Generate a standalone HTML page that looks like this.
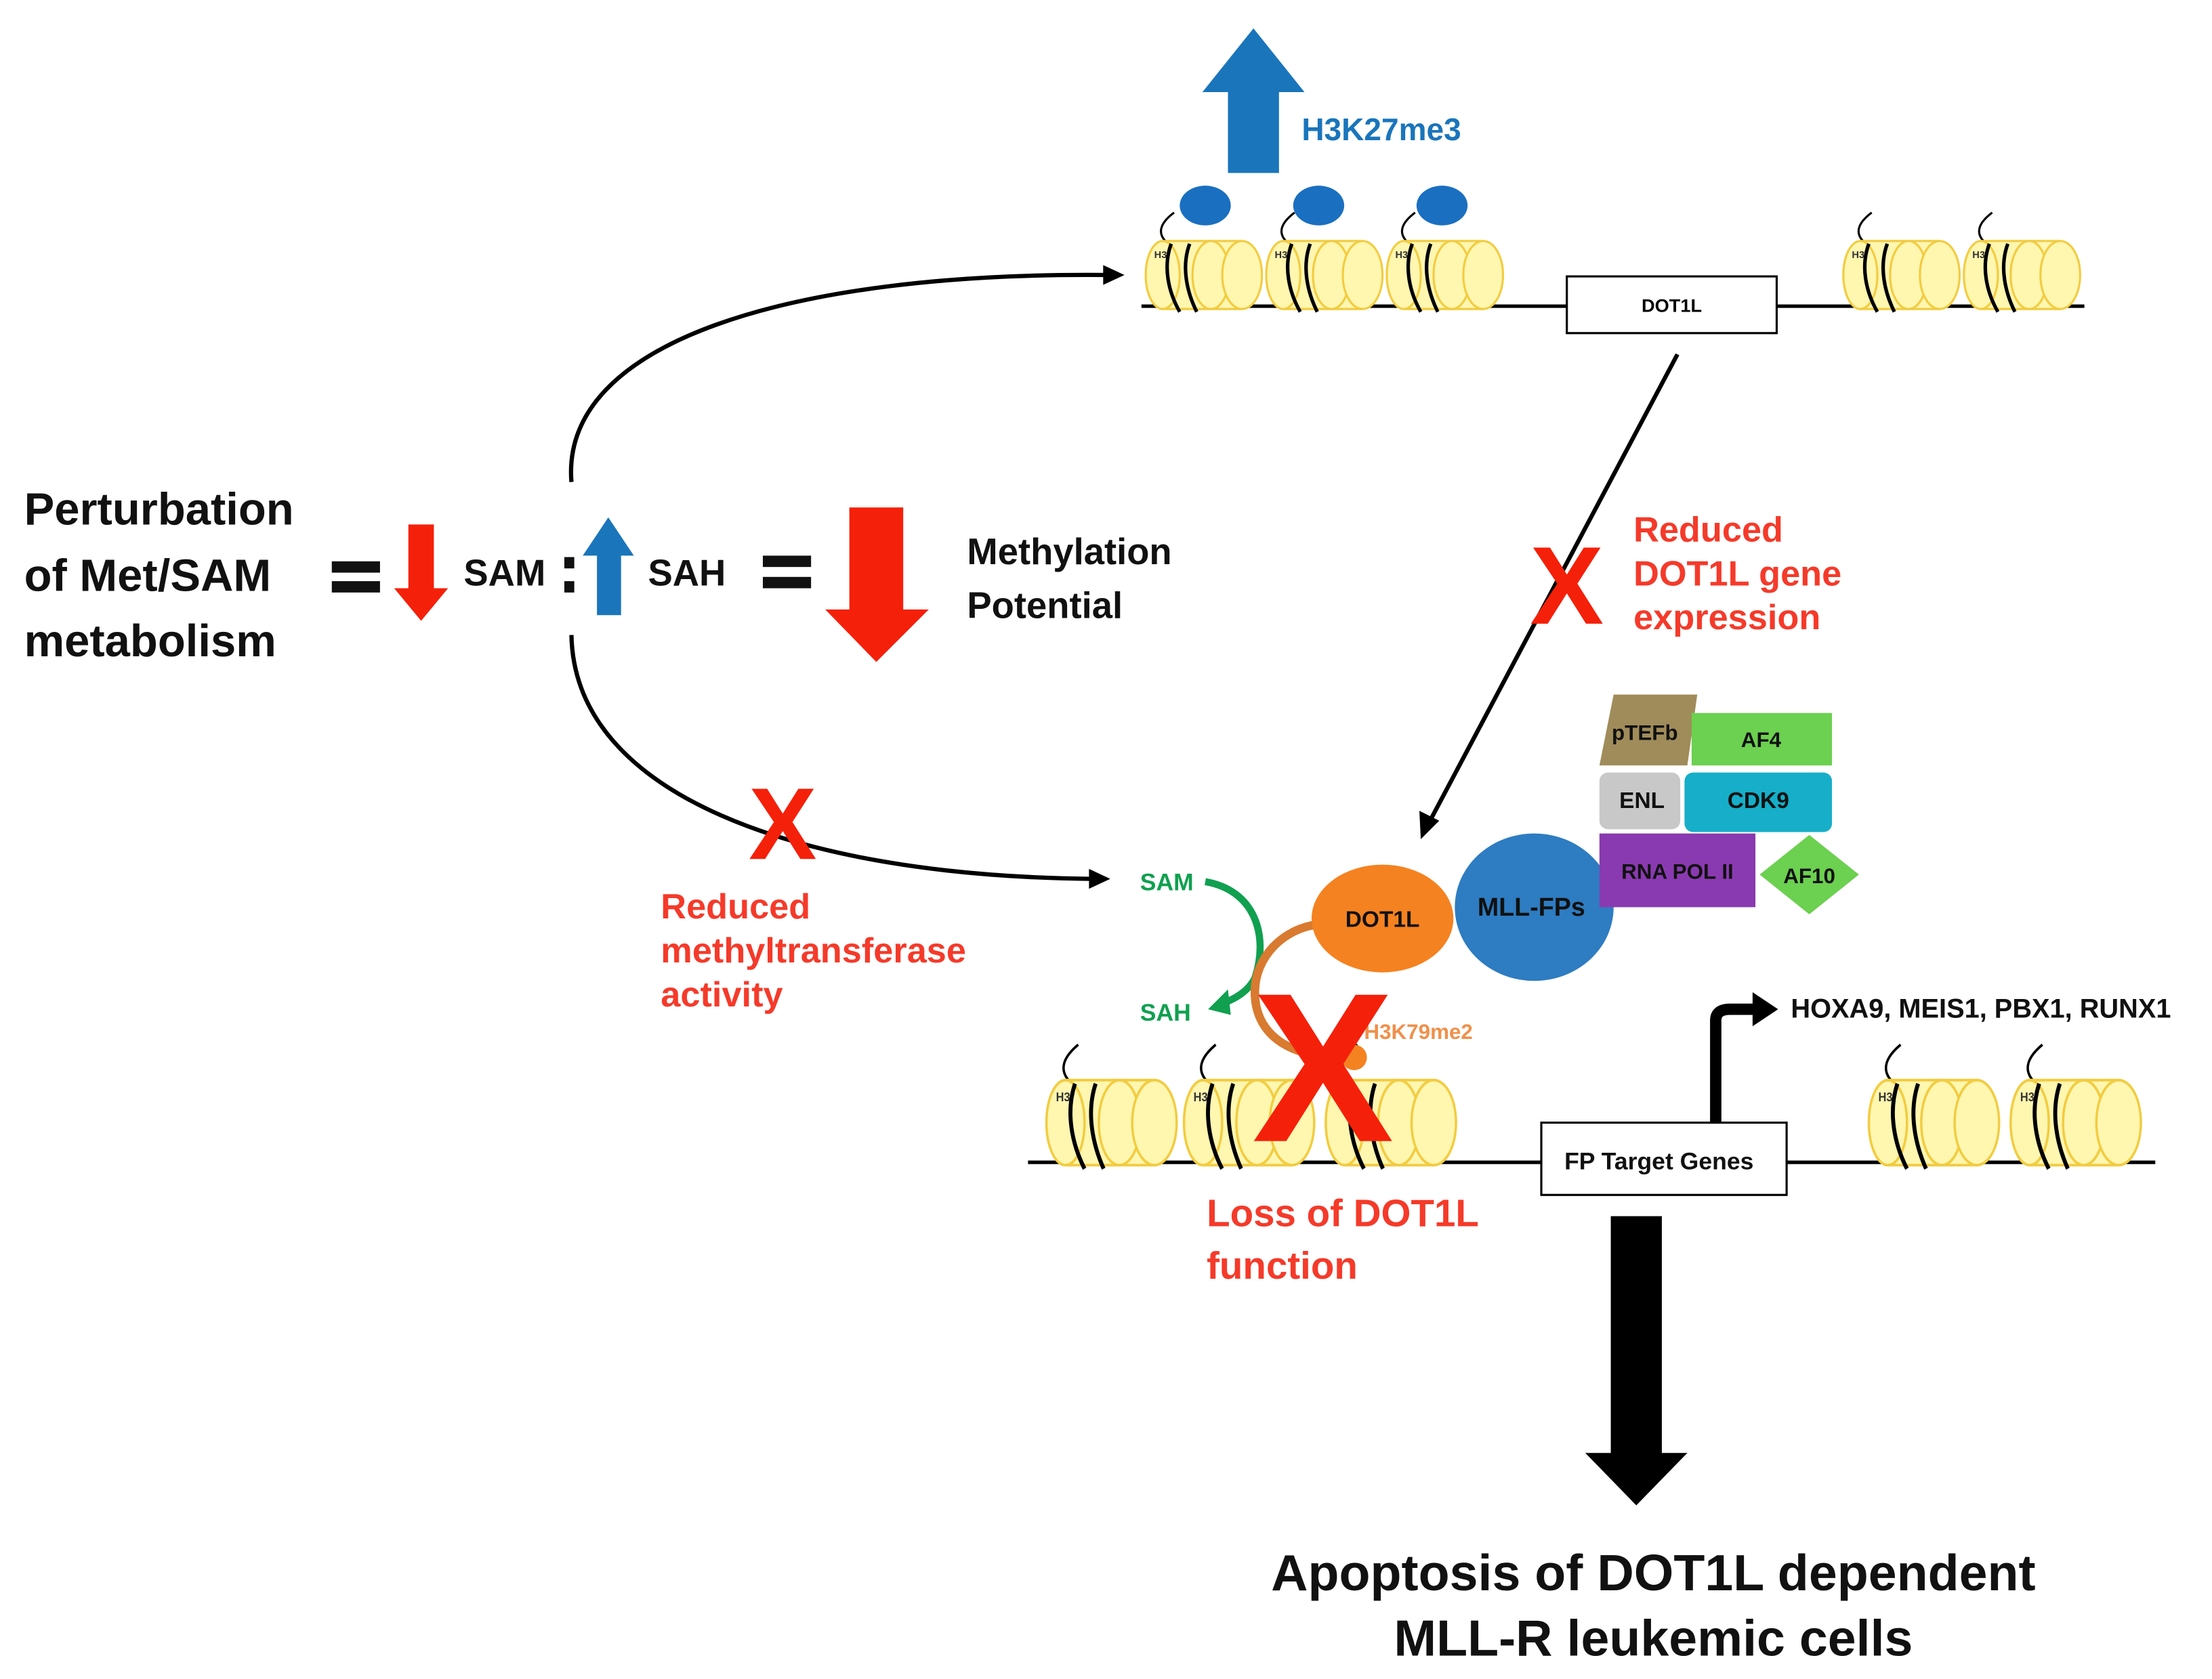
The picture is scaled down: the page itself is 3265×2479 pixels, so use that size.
<!DOCTYPE html>
<html><head><meta charset="utf-8"><style>
html,body{margin:0;padding:0;background:#fff;}
svg{display:block;}
text{font-family:"Liberation Sans",sans-serif;font-weight:bold;}
</style></head><body>
<svg width="3265" height="2479" viewBox="0 0 1560 1184.5" preserveAspectRatio="none" xmlns="http://www.w3.org/2000/svg">
<defs>
<g id="nuc">
 <path d="M16,2 C6,-6 12,-14 20,-20" fill="none" stroke="#000" stroke-width="1.5"/>
 <rect x="12" y="0" width="58" height="48" fill="#fff6b0"/>
 <ellipse cx="12" cy="24" rx="12" ry="24" fill="#fff6b0" stroke="#f2cc40" stroke-width="1.5"/>
 <line x1="12" y1="0" x2="68" y2="0" stroke="#f2cc40" stroke-width="1.5"/>
 <line x1="12" y1="48" x2="68" y2="48" stroke="#f2cc40" stroke-width="1.5"/>
 <ellipse cx="46" cy="24" rx="13" ry="24" fill="none" stroke="#f2cc40" stroke-width="1.5"/>
 <ellipse cx="68" cy="24" rx="14" ry="24" fill="#fff6b0" stroke="#f2cc40" stroke-width="1.5"/>
 <path d="M18,2 C12,18 16,36 24,50" fill="none" stroke="#000" stroke-width="2.5"/>
 <path d="M31,2 C25,18 29,36 36,50" fill="none" stroke="#000" stroke-width="2.5"/>
 <text x="6" y="12" font-size="7" font-weight="normal" fill="#333">H3</text>
</g>
</defs>

<polygon points="866,122 902,122 902,65 920,65 884,20 848,65 866,65" fill="#1a75bb"/>
<text x="918" y="99" font-size="22" fill="#1a75bb">H3K27me3</text>
<ellipse cx="850" cy="145" rx="18" ry="14" fill="#1a6fc0"/>
<ellipse cx="930" cy="145" rx="18" ry="14" fill="#1a6fc0"/>
<ellipse cx="1017" cy="145" rx="18" ry="14" fill="#1a6fc0"/>

<line x1="805" y1="216" x2="1470" y2="216" stroke="#000" stroke-width="2.5"/>
<use href="#nuc" x="808" y="170"/>
<use href="#nuc" x="893" y="170"/>
<use href="#nuc" x="978" y="170"/>
<use href="#nuc" x="1300" y="170"/>
<use href="#nuc" x="1385" y="170"/>
<rect x="1105" y="195" width="148" height="40" fill="#fff" stroke="#000" stroke-width="1.5"/>
<text x="1179" y="220" font-size="13" text-anchor="middle" font-weight="normal">DOT1L</text>

<path d="M403,340 C395,240 560,192 780,194" fill="none" stroke="#000" stroke-width="3"/>
<polygon points="793,194 778,187 778,201" fill="#000"/>
<path d="M403,448 C405,560 560,618 770,620" fill="none" stroke="#000" stroke-width="3"/>
<polygon points="783,620 768,613 768,627" fill="#000"/>

<text x="17" y="370" font-size="32" fill="#111">Perturbation</text>
<text x="17" y="417" font-size="32" fill="#111">of Met/SAM</text>
<text x="17" y="463" font-size="32" fill="#111">metabolism</text>
<rect x="234" y="396" width="34" height="8" fill="#111"/>
<rect x="234" y="410" width="34" height="8" fill="#111"/>
<polygon points="288,370 306,370 306,415 316,415 297,438 278,415 288,415" fill="#f5200a"/>
<text x="327" y="413" font-size="26" fill="#111">SAM</text>
<rect x="398" y="393" width="7" height="8" fill="#111"/>
<rect x="398" y="410" width="7" height="8" fill="#111"/>
<polygon points="421,434 438,434 438,392 447,392 429,365 411,392 421,392" fill="#1a75bb"/>
<text x="457" y="413" font-size="26" fill="#111">SAH</text>
<rect x="538" y="392" width="34" height="8" fill="#111"/>
<rect x="538" y="407" width="34" height="8" fill="#111"/>
<polygon points="599,358 637,358 637,430 655,430 618,467 582,430 599,430" fill="#f5200a"/>
<text x="682" y="398" font-size="26" fill="#111">Methylation</text>
<text x="682" y="436" font-size="26" fill="#111">Potential</text>

<line x1="1183" y1="250" x2="1008" y2="580" stroke="#000" stroke-width="3"/>
<polygon points="1002,592 1001,572 1015,579" fill="#000"/>
<text x="1105" y="440" font-size="78" fill="#f5200a" text-anchor="middle" font-weight="normal">X</text>
<text x="1152" y="382" font-size="25" fill="#f53a2a">Reduced</text>
<text x="1152" y="413" font-size="25" fill="#f53a2a">DOT1L gene</text>
<text x="1152" y="444" font-size="25" fill="#f53a2a">expression</text>

<text x="552" y="606" font-size="72" fill="#f5200a" text-anchor="middle" font-weight="normal">X</text>
<text x="466" y="648" font-size="25" fill="#f53a2a">Reduced</text>
<text x="466" y="679" font-size="25" fill="#f53a2a">methyltransferase</text>
<text x="466" y="710" font-size="25" fill="#f53a2a">activity</text>

<text x="804" y="628" font-size="17" fill="#10a050">SAM</text>
<text x="804" y="720" font-size="17" fill="#10a050">SAH</text>
<path d="M850,622 C885,628 895,660 885,690 C880,700 870,705 862,708" fill="none" stroke="#10a050" stroke-width="5"/>
<polygon points="852,712 866,698 868,716" fill="#10a050"/>
<path d="M930,652 C905,655 885,675 885,700 C885,730 910,745 940,745" fill="none" stroke="#d87a30" stroke-width="6"/>
<ellipse cx="975" cy="648" rx="50" ry="38" fill="#f58220"/>
<text x="975" y="654" font-size="16" text-anchor="middle" fill="#111">DOT1L</text>
<ellipse cx="1082" cy="640" rx="56" ry="52" fill="#2e7cc1"/>
<text x="1080" y="646" font-size="18" text-anchor="middle" fill="#111">MLL-FPs</text>
<polygon points="1138,490 1197,490 1190,540 1128,540" fill="#a08c5a"/>
<text x="1160" y="522" font-size="15" text-anchor="middle" fill="#111">pTEFb</text>
<rect x="1193" y="503" width="99" height="37" fill="#6cd050"/>
<text x="1242" y="527" font-size="15" text-anchor="middle" fill="#111">AF4</text>
<rect x="1128" y="545" width="57" height="40" rx="6" fill="#c8c8c8"/>
<text x="1158" y="570" font-size="16" text-anchor="middle" fill="#111">ENL</text>
<rect x="1188" y="545" width="104" height="42" rx="6" fill="#16aec8"/>
<text x="1240" y="570" font-size="16" text-anchor="middle" fill="#111">CDK9</text>
<rect x="1128" y="588" width="110" height="52" fill="#8a3ab0"/>
<text x="1183" y="620" font-size="15" text-anchor="middle" fill="#111">RNA POL II</text>
<polygon points="1276,589 1311,617 1276,645 1241,617" fill="#6cd050"/>
<text x="1276" y="623" font-size="15" text-anchor="middle" fill="#111">AF10</text>

<line x1="725" y1="820" x2="1520" y2="820" stroke="#000" stroke-width="2.5"/>
<g transform="translate(738,762) scale(1.12,1.25)"><use href="#nuc"/></g>
<g transform="translate(835,762) scale(1.12,1.25)"><use href="#nuc"/></g>
<g transform="translate(935,762) scale(1.12,1.25)"><use href="#nuc"/></g>
<g transform="translate(1318,762) scale(1.12,1.25)"><use href="#nuc"/></g>
<g transform="translate(1418,762) scale(1.12,1.25)"><use href="#nuc"/></g>
<circle cx="955" cy="746" r="9" fill="#f58220"/>
<text x="962" y="733" font-size="15" fill="#f0904a">H3K79me2</text>
<text x="933" y="805" font-size="150" fill="#f5200a" text-anchor="middle" font-weight="normal">X</text>
<rect x="1087" y="792" width="173" height="51" fill="#fff" stroke="#000" stroke-width="1.5"/>
<text x="1170" y="825" font-size="17" text-anchor="middle" fill="#111">FP Target Genes</text>
<path d="M1210,792 L1210,720 Q1210,712 1220,712 L1238,712" fill="none" stroke="#000" stroke-width="8"/>
<polygon points="1236,700 1254,712 1236,724" fill="#000"/>
<text x="1263" y="718" font-size="19" fill="#111">HOXA9, MEIS1, PBX1, RUNX1</text>

<text x="851" y="865" font-size="27" fill="#f53a2a">Loss of DOT1L</text>
<text x="851" y="902" font-size="27" fill="#f53a2a">function</text>

<polygon points="1136,858 1172,858 1172,1025 1190,1025 1154,1062 1118,1025 1136,1025" fill="#000"/>
<text x="1166" y="1122" font-size="36" text-anchor="middle" fill="#111">Apoptosis  of DOT1L dependent</text>
<text x="1166" y="1168" font-size="36" text-anchor="middle" fill="#111">MLL-R leukemic cells</text>
</svg>
</body></html>
